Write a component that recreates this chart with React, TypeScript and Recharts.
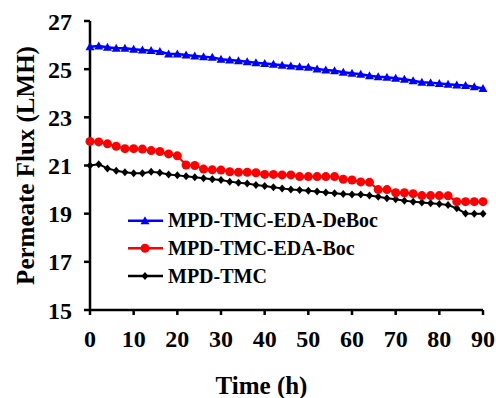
import { LineChart, Line, XAxis, YAxis, Legend } from "recharts";

const FONT = '"Liberation Serif", "Times New Roman", serif';

const times = [
  0, 2, 4, 6, 8, 10, 12, 14, 16, 18, 20, 22, 24, 26, 28, 30, 32, 34, 36, 38, 40, 42, 44,
  46, 48, 50, 52, 54, 56, 58, 60, 62, 64, 66, 68, 70, 72, 74, 76, 78, 80, 82, 84, 86, 88, 90,
];

const deBoc = [
  25.93, 25.96, 25.91, 25.87, 25.87, 25.83, 25.8, 25.77, 25.73, 25.63, 25.63, 25.59, 25.55,
  25.52, 25.49, 25.41, 25.38, 25.35, 25.31, 25.27, 25.24, 25.2, 25.16, 25.13, 25.1, 25.08,
  25.01, 24.97, 24.93, 24.87, 24.83, 24.79, 24.73, 24.69, 24.66, 24.62, 24.58, 24.52, 24.46,
  24.44, 24.41, 24.37, 24.34, 24.32, 24.27, 24.2,
];

const boc = [
  22.0, 21.98, 21.9, 21.8, 21.7, 21.7, 21.68, 21.62, 21.58, 21.48, 21.4, 21.02, 21.0, 20.85,
  20.82, 20.81, 20.74, 20.72, 20.72, 20.7, 20.63, 20.63, 20.61, 20.61, 20.54, 20.54, 20.54,
  20.54, 20.54, 20.43, 20.4, 20.32, 20.3, 20.0, 20.0, 19.87, 19.87, 19.83, 19.75, 19.75,
  19.75, 19.74, 19.5, 19.5, 19.5, 19.5,
];

const tmc = [
  21.0, 21.05, 20.88, 20.78, 20.72, 20.68, 20.68, 20.74, 20.7, 20.63, 20.59, 20.55, 20.51,
  20.47, 20.43, 20.4, 20.33, 20.28, 20.25, 20.19, 20.15, 20.1, 20.05, 20.0, 19.98, 19.95,
  19.92, 19.88, 19.85, 19.82, 19.8, 19.8, 19.75, 19.7, 19.64, 19.6, 19.54, 19.5, 19.46,
  19.43, 19.4, 19.36, 19.22, 19.01, 19.0, 19.0,
];

const xTicks = [0, 10, 20, 30, 40, 50, 60, 70, 80, 90];
const yTicks = [15, 17, 19, 21, 23, 25, 27];

const data = times.map((t, i) => ({ t, deBoc: deBoc[i], boc: boc[i], tmc: tmc[i] }));

const triPath = (cx: number, cy: number) =>
  `M${cx},${cy - 4.5}L${cx + 4.5},${cy + 3.5}L${cx - 4.5},${cy + 3.5}Z`;
const diaPath = (cx: number, cy: number) =>
  `M${cx},${cy - 4}L${cx + 3.5},${cy}L${cx},${cy + 4}L${cx - 3.5},${cy}Z`;

const TriDot = (p: any) => <path key={p.index} d={triPath(p.cx, p.cy)} fill="#0000FF" />;
const DiaDot = (p: any) => <path key={p.index} d={diaPath(p.cx, p.cy)} fill="#000" />;

const legendRows = [
  { name: "MPD-TMC-EDA-DeBoc", color: "#0000FF", mark: "tri" },
  { name: "MPD-TMC-EDA-Boc", color: "#FF0000", mark: "dot" },
  { name: "MPD-TMC", color: "#000000", mark: "dia" },
];

const LegendBox = () => (
  <svg width={270} height={90} style={{ display: "block" }}>
    {legendRows.map((r, i) => {
      const y = 15.7 + i * 27.6;
      return (
        <g key={r.name}>
          <line x1={0} x2={35} y1={y} y2={y} stroke={r.color} strokeWidth={2.5} />
          {r.mark === "tri" && <path d={triPath(17, y)} fill={r.color} />}
          {r.mark === "dot" && <circle cx={17} cy={y} r={4.5} fill={r.color} />}
          {r.mark === "dia" && <path d={diaPath(17, y)} fill={r.color} />}
          <text x={40} y={y + 6.6} fontFamily={FONT} fontWeight="bold" fontSize={20} fill="#000">
            {r.name}
          </text>
        </g>
      );
    })}
  </svg>
);

const tickStyle = { fontSize: 24, fontWeight: "bold", fill: "#000", fontFamily: FONT };
const axisStroke = { stroke: "#000", strokeWidth: 2.5 };

export default function App() {
  return (
    <div style={{ position: "absolute", left: 0, top: 0, background: "#fff" }}>
      <LineChart width={496} height={398} data={data} margin={{ top: 21, right: 13, left: 0, bottom: 0 }}>
        <XAxis
          dataKey="t"
          type="number"
          domain={[0, 90]}
          ticks={xTicks}
          height={88}
          tickSize={5}
          tickMargin={15}
          axisLine={axisStroke}
          tickLine={axisStroke}
          tick={tickStyle}
          label={{
            value: "Time (h)",
            position: "insideBottom",
            offset: 4,
            dx: -25,
            style: { fontSize: 25, fontWeight: "bold", fill: "#000", fontFamily: FONT },
          }}
        />
        <YAxis
          domain={[15, 27]}
          ticks={yTicks}
          width={90}
          tickSize={6}
          tickMargin={12}
          axisLine={axisStroke}
          tickLine={axisStroke}
          tick={tickStyle}
          label={{
            value: "Permeate Flux (LMH)",
            angle: -90,
            position: "insideLeft",
            offset: 0,
            dx: 25,
            style: { textAnchor: "middle", fontSize: 25, fontWeight: "bold", fill: "#000", fontFamily: FONT },
          }}
        />
        <Legend
          layout="vertical"
          align="center"
          verticalAlign="middle"
          content={() => <LegendBox />}
          wrapperStyle={{ position: "absolute", left: 128, top: 205, width: 270, height: 90 }}
        />
        <Line
          dataKey="tmc"
          stroke="#000"
          strokeWidth={2}
          dot={DiaDot}
          activeDot={false}
          isAnimationActive={false}
        />
        <Line
          dataKey="boc"
          stroke="#FF0000"
          strokeWidth={2}
          dot={{ r: 4.5, fill: "#FF0000", stroke: "#FF0000", strokeWidth: 0 }}
          activeDot={false}
          isAnimationActive={false}
        />
        <Line
          dataKey="deBoc"
          stroke="#0000FF"
          strokeWidth={2.5}
          dot={TriDot}
          activeDot={false}
          isAnimationActive={false}
        />
      </LineChart>
    </div>
  );
}
